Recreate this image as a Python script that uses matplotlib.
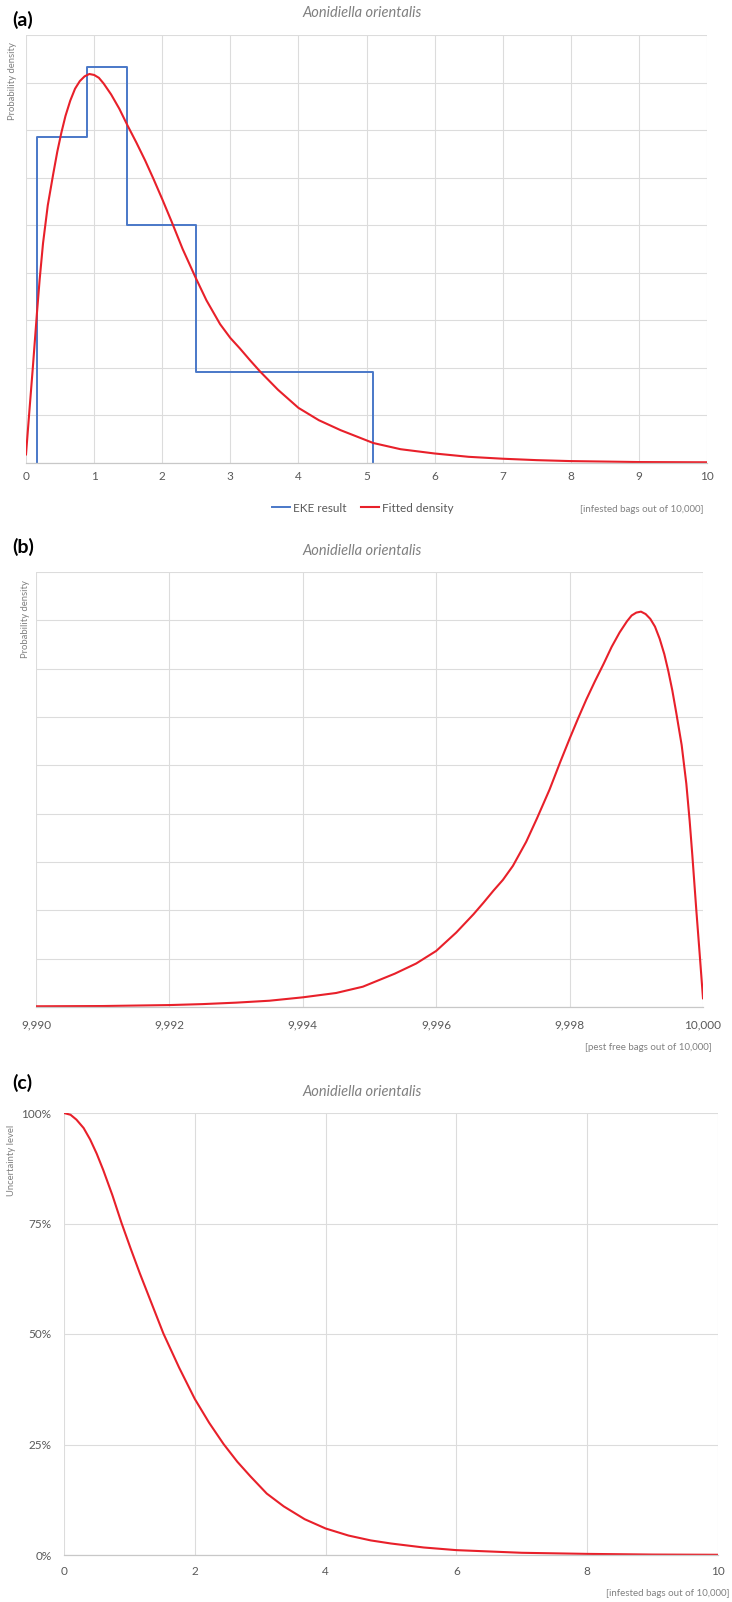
import numpy as np
import matplotlib.pyplot as plt
from matplotlib.ticker import FuncFormatter

plt.rcParams['font.family'] = ['Lato', 'DejaVu Sans']

W, H = 732, 1602

species = 'Aonidiella orientalis'

# EKE result: quantile bins (infested bags out of 10,000) and their densities
eke_edges = [0.16, 0.89, 1.49, 2.50, 5.10]
eke_density = [6.86, 8.33, 5.00, 1.92]

# fitted density
dens_x = [0.00, 0.05, 0.10, 0.16, 0.20, 0.25, 0.32, 0.40, 0.46, 0.52, 0.58, 0.65,
          0.72, 0.79, 0.86, 0.93, 1.00, 1.07, 1.14, 1.25, 1.37, 1.49, 1.62, 1.75,
          1.87, 2.00, 2.14, 2.30, 2.49, 2.65, 2.85, 3.00, 3.14, 3.29, 3.44, 3.70,
          4.00, 4.30, 4.62, 5.10, 5.50, 6.00, 6.50, 7.00, 7.50, 8.00, 9.00, 10.00]
dens_y = [0.18, 1.10, 2.00, 3.14, 3.85, 4.62, 5.42, 6.08, 6.55, 6.95, 7.30, 7.62,
          7.87, 8.03, 8.13, 8.18, 8.16, 8.10, 7.98, 7.75, 7.45, 7.10, 6.74, 6.36,
          5.98, 5.55, 5.07, 4.50, 3.90, 3.42, 2.92, 2.63, 2.41, 2.16, 1.92, 1.54,
          1.16, 0.90, 0.69, 0.42, 0.29, 0.20, 0.13, 0.09, 0.06, 0.04, 0.02, 0.015]

# uncertainty level (exceedance), panel (c)
unc_x = [0, 0.1, 0.19, 0.3, 0.4, 0.5, 0.6, 0.74, 0.88, 1.02, 1.16, 1.34, 1.52,
         1.76, 2.0, 2.22, 2.44, 2.65, 2.85, 3.1, 3.36, 3.68, 4.0, 4.35, 4.69,
         5.0, 5.5, 6.0, 6.5, 7.0, 8.0, 9.0, 10.0]
unc_y = [100, 99.6, 98.5, 96.6, 94.0, 90.8, 87.1, 81.4, 75.1, 69.3, 63.7, 56.9,
         50.1, 42.4, 35.3, 29.9, 25.1, 21.1, 17.8, 13.9, 11.0, 8.1, 6.0, 4.4, 3.3,
         2.6, 1.7, 1.1, 0.8, 0.5, 0.25, 0.1, 0.05]

blue = '#4a78c8'
red = '#e8202a'
grey = '#595959'
light = '#808080'

fig = plt.figure(figsize=(W / 100, H / 100), dpi=100)


def axes_px(left, top, right, bottom):
    return fig.add_axes([left / W, 1 - bottom / H, (right - left) / W, (bottom - top) / H])


def style(ax, pad):
    for s in ['top', 'right', 'left']:
        ax.spines[s].set_visible(False)
    ax.spines['bottom'].set_color('#c8c8c8')
    ax.spines['bottom'].set_linewidth(0.9)
    ax.grid(True, color='#dcdcdc', lw=0.8)
    ax.set_axisbelow(True)
    ax.tick_params(length=0, colors=grey, labelsize=8.5, pad=pad)


def header(letter, y_letter, y_title):
    fig.text(12 / W, 1 - y_letter / H, letter, fontsize=14, fontweight='bold', va='center')
    fig.text(362 / W, 1 - y_title / H, species, fontsize=10.5, style='italic',
             color=light, ha='center', va='center')


# (a)
ax = axes_px(26, 35, 707, 463)
style(ax, 6)
xs = np.repeat(eke_edges, 2)
ys = np.concatenate([[0], np.repeat(eke_density, 2), [0]])
ax.plot(xs, ys, color=blue, lw=1.4, label='EKE result')
ax.plot(dens_x, dens_y, color=red, lw=1.5, label='Fitted density')
ax.set_xlim(0, 10)
ax.set_ylim(0, 9)
ax.set_xticks(range(11))
ax.set_yticks(range(10))
ax.tick_params(labelleft=False)
header('(a)', 20, 13)
fig.text(13 / W, 1 - 42 / H, 'Probability density', rotation=90, fontsize=6.8,
         color=light, ha='center', va='top')
fig.legend(loc='center', bbox_to_anchor=(363 / W, 1 - 508 / H), ncol=2, frameon=False,
           fontsize=8.5, handlelength=1.5, handletextpad=0.3, columnspacing=1.2,
           labelcolor=grey)
fig.text(704 / W, 1 - 509 / H, '[infested bags out of 10,000]', fontsize=7,
         color=light, ha='right', va='center')

# (b)
ax = axes_px(36, 572, 703, 1007)
style(ax, 9)
ax.plot(10000 - np.array(dens_x), dens_y, color=red, lw=1.5)
ax.set_xlim(9990, 10000)
ax.set_ylim(0, 9)
ax.set_xticks(range(9990, 10001, 2))
ax.xaxis.set_major_formatter(FuncFormatter(lambda v, p: f'{v:,.0f}'))
ax.set_yticks(range(10))
ax.tick_params(labelleft=False)
header('(b)', 547, 551)
fig.text(25 / W, 1 - 580 / H, 'Probability density', rotation=90, fontsize=6.8,
         color=light, ha='center', va='top')
fig.text(712 / W, 1 - 1048 / H, '[pest free bags out of 10,000]', fontsize=7,
         color=light, ha='right', va='center')

# (c)
ax = axes_px(64, 1113, 718, 1555)
style(ax, 8)
ax.plot(unc_x, np.array(unc_y) / 100, color=red, lw=1.5)
ax.set_xlim(0, 10)
ax.set_ylim(0, 1)
ax.set_xticks(range(0, 11, 2))
ax.set_yticks([0, 0.25, 0.5, 0.75, 1])
ax.yaxis.set_major_formatter(FuncFormatter(lambda v, p: f'{v:.0%}'))
ax.tick_params(axis='y', pad=9)
header('(c)', 1083, 1092)
fig.text(12 / W, 1 - 1125 / H, 'Uncertainty level', rotation=90, fontsize=6.8,
         color=light, ha='center', va='top')
fig.text(730 / W, 1 - 1594 / H, '[infested bags out of 10,000]', fontsize=7,
         color=light, ha='right', va='center')

fig.savefig('out.png', dpi=100)
